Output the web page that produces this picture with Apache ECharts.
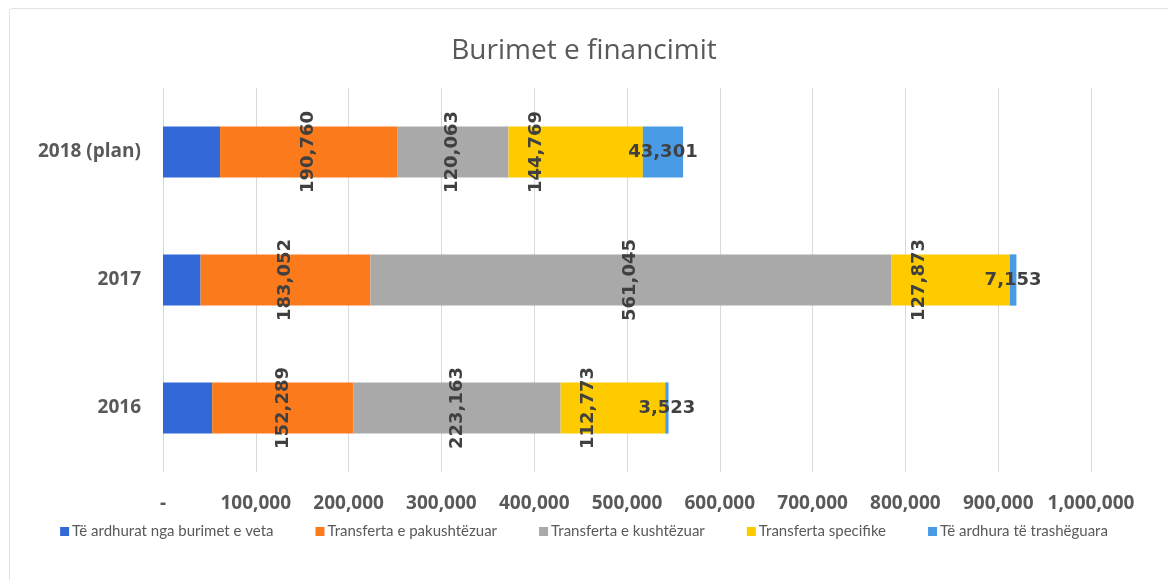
<!DOCTYPE html>
<html>
<head>
<meta charset="utf-8">
<title>Burimet e financimit</title>
<script src="https://cdn.jsdelivr.net/npm/echarts@6/dist/echarts.min.js"></script>
<style>
  html, body { margin: 0; padding: 0; background: #fff; }
  #chart { width: 1168px; height: 580px; }
</style>
</head>
<body>
<div id="chart"></div>
<script>
  // kategorite (nga poshte lart)
  var categories = ['2016', '2017', '2018 (plan)'];
  var seriesNames = [
    'Të ardhurat nga burimet e veta',
    'Transferta e pakushtëzuar',
    'Transferta e kushtëzuar',
    'Transferta specifike',
    'Të ardhura të trashëguara'
  ];
  // vlerat per cdo burim
  var burimeVeta = [53000, 40500, 61500];
  var pakushtezuar = [152289, 183052, 190760];
  var kushtezuar = [223163, 561045, 120063];
  var specifike = [112773, 127873, 144769];
  var trasheguara = [3523, 7153, 43301];
  var xTicks = [0, 100000, 200000, 300000, 400000, 500000, 600000, 700000, 800000, 900000, 1000000];

  var colors = ['#3269d6', '#fb7b1c', '#a9a9a9', '#fdcb00', '#4a9be6'];
  var labelFont = { fontFamily: 'DejaVu Sans', fontSize: 18, fontWeight: 'bold', color: '#404040' };

  function fmt(v) {
    return v === 0 ? '-' : v.toLocaleString('en-US');
  }

  var chart = echarts.init(document.getElementById('chart'));

  var option = {
    backgroundColor: '#fff',
    animation: false,
    color: colors,
    graphic: [{
      type: 'rect',
      shape: { x: 9.5, y: 8.5, width: 1200, height: 620, r: 3 },
      style: { fill: 'none', stroke: '#e2e2e2', lineWidth: 1 },
      silent: true
    }],
    title: {
      text: 'Burimet e financimit',
      left: 'center',
      top: 32,
      textStyle: { fontFamily: 'Open Sans', fontSize: 28, fontWeight: 'normal', color: '#595959' }
    },
    legend: {
      data: seriesNames,
      bottom: 36,
      left: 'center',
      itemWidth: 9,
      itemHeight: 9,
      itemGap: 42,
      icon: 'rect',
      textStyle: { fontFamily: 'Lato', fontSize: 15, color: '#595959', padding: [0, 0, 0, -2] }
    },
    grid: { left: 163, right: 77, top: 88, bottom: 108 },
    xAxis: {
      type: 'value',
      min: xTicks[0],
      max: xTicks[xTicks.length - 1],
      interval: xTicks[1] - xTicks[0],
      axisLine: { show: false },
      axisTick: { show: false },
      splitLine: { lineStyle: { color: '#d9d9d9', width: 1 } },
      axisLabel: {
        margin: 22,
        formatter: fmt,
        fontFamily: 'Open Sans', fontSize: 19, fontWeight: 'bold', color: '#595959'
      }
    },
    yAxis: {
      type: 'category',
      data: categories,
      axisLine: { show: false },
      axisTick: { show: false },
      axisLabel: {
        margin: 22,
        fontFamily: 'Open Sans', fontSize: 19, fontWeight: 'bold', color: '#595959'
      }
    },
    series: [
      {
        name: seriesNames[0], type: 'bar', stack: 'total', barWidth: '40%',
        data: burimeVeta,
        label: { show: false }
      },
      {
        name: seriesNames[1], type: 'bar', stack: 'total', barWidth: '40%',
        data: pakushtezuar,
        label: Object.assign({ show: true, position: 'inside', rotate: 90, formatter: function (p) { return fmt(p.value); } }, labelFont)
      },
      {
        name: seriesNames[2], type: 'bar', stack: 'total', barWidth: '40%',
        data: kushtezuar,
        label: Object.assign({ show: true, position: 'inside', rotate: 90, formatter: function (p) { return fmt(p.value); } }, labelFont)
      },
      {
        name: seriesNames[3], type: 'bar', stack: 'total', barWidth: '40%',
        data: specifike,
        label: Object.assign({
          show: true, position: [28, '50%'], align: 'center', verticalAlign: 'middle', rotate: 90,
          formatter: function (p) { return fmt(p.value); }
        }, labelFont)
      },
      {
        name: seriesNames[4], type: 'bar', stack: 'total', barWidth: '40%',
        data: trasheguara,
        label: Object.assign({ show: true, position: 'inside', formatter: function (p) { return fmt(p.value); } }, labelFont)
      }
    ]
  };

  chart.setOption(option);
  window.addEventListener('resize', function () { chart.resize(); });
</script>
</body>
</html>
